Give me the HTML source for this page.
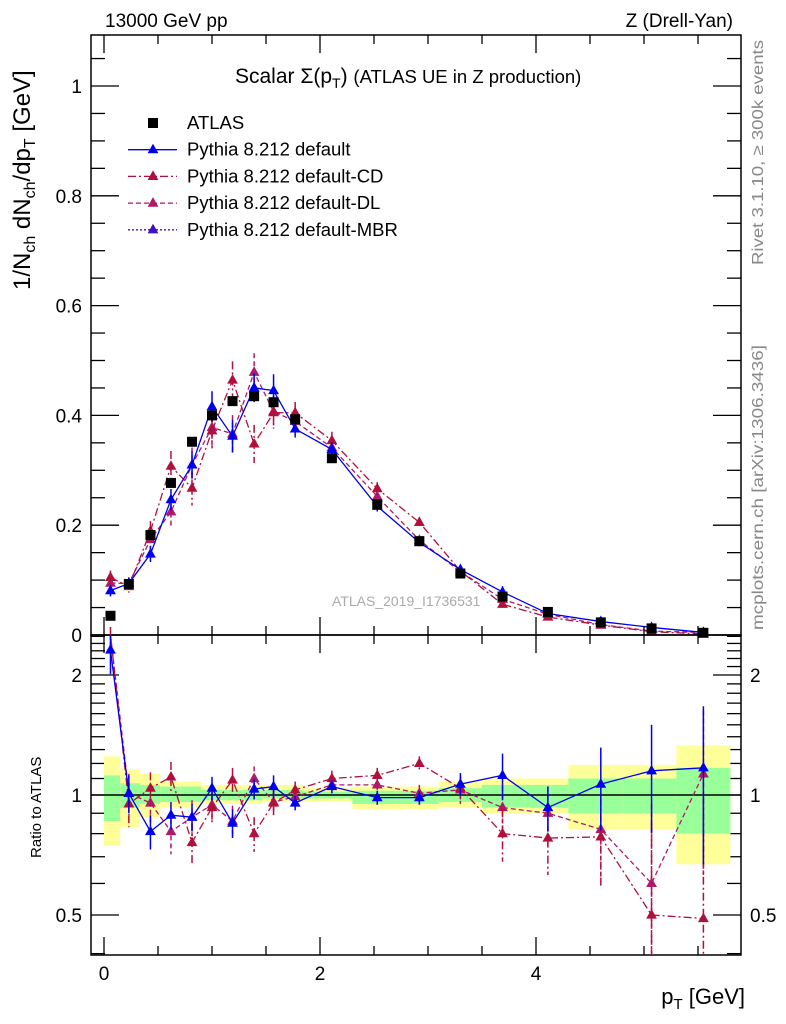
<!DOCTYPE html>
<html><head><meta charset="utf-8">
<style>
html,body{margin:0;padding:0;background:#fff;}
svg{display:block;font-family:"Liberation Sans",Arial,sans-serif;}
</style></head>
<body>
<svg id="c" width="786" height="1024" viewBox="0 0 786 1024">
<text x="105" y="27" font-size="19">13000 GeV pp</text>
<text x="733" y="27" font-size="19" text-anchor="end">Z (Drell-Yan)</text>
<text x="235" y="83" font-size="21">Scalar Σ(p<tspan font-size="14" dy="5">T</tspan><tspan dy="-5">) </tspan><tspan font-size="18.5">(ATLAS UE in Z production)</tspan></text>
<text transform="translate(763,265) rotate(-90)" font-size="16" fill="#888" textLength="225" lengthAdjust="spacingAndGlyphs">Rivet 3.1.10, ≥ 300k events</text>
<text transform="translate(763,630) rotate(-90)" font-size="16" fill="#888" textLength="285" lengthAdjust="spacingAndGlyphs">mcplots.cern.ch [arXiv:1306.3436]</text>
<text x="332" y="606" font-size="14" fill="#aaa">ATLAS_2019_I1736531</text>
<text transform="translate(30,290) rotate(-90)" font-size="24">1/N<tspan font-size="16" dy="5">ch</tspan><tspan dy="-5"> dN</tspan><tspan font-size="16" dy="5">ch</tspan><tspan dy="-5">/dp</tspan><tspan font-size="16" dy="5">T</tspan><tspan dy="-5"> [GeV]</tspan></text>
<text transform="translate(41,858) rotate(-90)" font-size="15">Ratio to ATLAS</text>
<text x="745" y="1004" font-size="22" text-anchor="end">p<tspan font-size="15" dy="5">T</tspan><tspan dy="-5"> [GeV]</tspan></text>
<g id="main"></g><g id="ratio"></g><g id="legend"></g>
</svg>
<script>
const xs = [0.06,0.23,0.43,0.62,0.815,1.0,1.19,1.39,1.57,1.77,2.11,2.53,2.92,3.3,3.69,4.11,4.6,5.07,5.55];
const binEdges = [0,0.15,0.33,0.52,0.71,0.9,1.09,1.28,1.47,1.66,1.85,2.3,2.7,3.1,3.5,3.9,4.3,4.8,5.3,5.8];
const dataVals = [0.035,0.093,0.182,0.277,0.352,0.400,0.426,0.435,0.424,0.393,0.322,0.238,0.171,0.112,0.070,0.042,0.023,0.012,0.004];
const ratioDefault = [2.31,1.01,0.81,0.89,0.88,1.04,0.85,1.035,1.05,0.955,1.05,0.985,0.985,1.065,1.12,0.93,1.065,1.15,1.17];
const ratioCD = [3.0,0.95,1.04,1.11,0.76,0.93,1.09,0.80,0.955,1.03,1.10,1.12,1.20,1.04,0.80,0.78,0.785,0.50,0.49];
const ratioDL = [2.7,1.01,0.955,0.81,0.88,0.945,0.86,1.10,0.96,0.99,1.06,1.06,1.01,1.03,0.93,0.90,0.82,0.60,1.13];
const errDefault = [0.3,0.11,0.08,0.07,0.07,0.07,0.07,0.06,0.07,0.04,0.04,0.04,0.04,0.07,0.15,0.12,0.25,0.35,0.5];
const errMag = [0.35,0.12,0.10,0.10,0.09,0.08,0.08,0.08,0.07,0.05,0.05,0.05,0.05,0.08,0.12,0.15,0.2,0.35,0.5];
const bandYHi = [1.25,1.16,1.13,1.08,1.08,1.06,1.06,1.06,1.06,1.06,1.04,1.05,1.05,1.08,1.10,1.10,1.19,1.19,1.33];
const bandYLo = [0.745,0.83,0.88,0.93,0.93,0.95,0.95,0.95,0.96,0.96,0.96,0.92,0.92,0.93,0.90,0.90,0.82,0.82,0.67];
const bandGHi = [1.12,1.07,1.06,1.05,1.05,1.03,1.03,1.03,1.03,1.03,1.02,1.025,1.025,1.04,1.06,1.06,1.10,1.10,1.17];
const bandGLo = [0.86,0.93,0.95,0.96,0.96,0.97,0.97,0.97,0.98,0.98,0.98,0.95,0.95,0.96,0.93,0.93,0.90,0.90,0.80];
const mainTicks = [0,0.2,0.4,0.6,0.8,1];
const mainTickLabels = ["0","0.2","0.4","0.6","0.8","1"];
const xTicks = [0,2,4];
const xTickLabels = ["0","2","4"];
const ratioTicks = [0.5,1,2];
const ratioTickLabels = ["0.5","1","2"];

const NS="http://www.w3.org/2000/svg";
const L=91,R=741,MT=35,MB=635,RT=635,RB=955;
const X=v=>104+v*108;
const YM=v=>635-v*549;
const YR=r=>795-120*Math.log2(r);
function mk(tag,attrs,parent){const e=document.createElementNS(NS,tag);for(const k in attrs)e.setAttribute(k,attrs[k]);parent.appendChild(e);return e;}
const main=document.getElementById('main'),ratio=document.getElementById('ratio'),leg=document.getElementById('legend');
const C_BLUE="#0000ee",C_CD="#b0103c",C_DL="#b0186a",C_MBR="#4010c0";

for(let i=0;i<xs.length;i++){
  const x0=X(binEdges[i]),w=X(binEdges[i+1])-x0;
  let e=mk('rect',{x:x0,y:YR(bandYHi[i]),width:w,height:YR(bandYLo[i])-YR(bandYHi[i]),fill:"#ffff99"},ratio);
  
  
  e=mk('rect',{x:x0,y:YR(bandGHi[i]),width:w,height:YR(bandGLo[i])-YR(bandGHi[i]),fill:"#99ff99"},ratio);
  
  
}
mk('line',{x1:L,x2:R,y1:YR(1),y2:YR(1),stroke:"#000","stroke-width":1.5},ratio);

function tri(g,x,y,c,s){return mk('path',{d:`M${x},${y-s} L${x+s*0.9},${y+s*0.6} L${x-s*0.9},${y+s*0.6}Z`,fill:c},g);}
function series(ratios,errs,color,dash,name){
  const gm=mk('g',{},main),gr=mk('g',{},ratio);
  
  
  
  
  const pm=[],pr=[];
  for(let i=0;i<xs.length;i++){
    const v=ratios[i]*dataVals[i],e=errs[i]*dataVals[i];
    const x=X(xs[i]);
    pm.push(x+','+YM(v));
    const ry=Math.max(RT,Math.min(RB,YR(ratios[i])));
    pr.push(x+','+ry);
    mk('line',{x1:x,x2:x,y1:Math.max(MT,YM(v+e)),y2:Math.min(MB,YM(Math.max(v-e,0))),stroke:color,"stroke-width":1.5,"stroke-dasharray":dash},gm);
    const rhi=YR(ratios[i]+errs[i]),rlo=ratios[i]-errs[i]>0.01?YR(ratios[i]-errs[i]):RB;
    mk('line',{x1:x,x2:x,y1:Math.max(RT,rhi),y2:Math.min(RB,rlo),stroke:color,"stroke-width":1.5,"stroke-dasharray":dash},gr);
    if(YM(v)>=MT&&YM(v)<=MB){const t=tri(gm,x,YM(v),color,6);}
    if(YR(ratios[i])>=RT-2&&YR(ratios[i])<=RB){const t=tri(gr,x,YR(ratios[i]),color,6);}
  }
  mk('polyline',{points:pm.join(' '),fill:"none",stroke:color,"stroke-width":1.3,"stroke-dasharray":dash},gm);
  mk('polyline',{points:pr.join(' '),fill:"none",stroke:color,"stroke-width":1.3,"stroke-dasharray":dash},gr);
}
series(ratioDL,errMag,C_DL,"5,3","pythia-dl");
series(ratioCD,errMag,C_CD,"8,3,2,3","pythia-cd");
series(ratioDefault,errDefault,C_BLUE,"","pythia-default");
for(let i=0;i<xs.length;i++){
  const r=mk('rect',{x:X(xs[i])-5,y:YM(dataVals[i])-5,width:10,height:10,fill:"#000"},main);
  
  
}

function frame(top,bot,name){const f=mk('rect',{x:L,y:top,width:R-L,height:bot-top,fill:"none",stroke:"#000","stroke-width":1.5},main);}
frame(MT,MB,'main-frame');frame(RT,RB,'ratio-frame');
for(let v=0;v<=5.8;v+=0.5){
  const big=Math.abs(v/2-Math.round(v/2))<1e-6,len=big?18:9,x=X(v);
  for(const [t,b] of [[MT,MB],[RT,RB]]){
    mk('line',{x1:x,x2:x,y1:b,y2:b-len,stroke:"#000","stroke-width":1.3},main);
    mk('line',{x1:x,x2:x,y1:t,y2:t+len,stroke:"#000","stroke-width":1.3},main);
  }
}
xTicks.forEach((v,i)=>{const t=mk('text',{x:X(v),y:980,"font-size":19,"text-anchor":"middle"},main);t.textContent=xTickLabels[i];});
for(let v=0;v<=1.09;v+=0.05){
  const big=Math.abs(v/0.2-Math.round(v/0.2))<1e-6,len=big?28:14,y=YM(v);
  mk('line',{x1:L,x2:L+len,y1:y,y2:y,stroke:"#000","stroke-width":1.3},main);
  mk('line',{x1:R,x2:R-len,y1:y,y2:y,stroke:"#000","stroke-width":1.3},main);
}
mainTicks.forEach((v,i)=>{const t=mk('text',{x:82,y:YM(v)+7,"font-size":19,"text-anchor":"end"},main);t.textContent=mainTickLabels[i];});
[0.4,0.5,0.6,0.7,0.8,0.9,1,1.1,1.2,1.3,1.4,1.5,1.6,1.7,1.8,1.9,2,2.1,2.2,2.3,2.4,2.5].forEach(v=>{
  const big=[0.5,1,2].includes(v),len=big?28:14,y=YR(v);
  if(y<RT||y>RB)return;
  mk('line',{x1:L,x2:L+len,y1:y,y2:y,stroke:"#000","stroke-width":1.3},main);
  mk('line',{x1:R,x2:R-len,y1:y,y2:y,stroke:"#000","stroke-width":1.3},main);
});
ratioTicks.forEach((v,i)=>{
  let t=mk('text',{x:82,y:YR(v)+7,"font-size":19,"text-anchor":"end"},main);t.textContent=ratioTickLabels[i];
  t=mk('text',{x:750,y:YR(v)+7,"font-size":19},main);t.textContent=ratioTickLabels[i];
});

const legNames=["ATLAS","Pythia 8.212 default","Pythia 8.212 default-CD","Pythia 8.212 default-DL","Pythia 8.212 default-MBR"];
const legColors=["#000",C_BLUE,C_CD,C_DL,C_MBR];
const legDash=["","","8,3,2,3","5,3","2,2"];
legNames.forEach((n,i)=>{
  const y=123+i*26.7,g=mk('g',{},leg);
  
  
  if(i===0)mk('rect',{x:148,y:y-5,width:10,height:10,fill:"#000"},g);
  else{mk('line',{x1:128,x2:177,y1:y,y2:y,stroke:legColors[i],"stroke-width":1.3,"stroke-dasharray":legDash[i]},g);tri(g,153,y,legColors[i],6);}
  const t=mk('text',{x:187,y:y+6,"font-size":18.5},g);t.textContent=n;
});
</script>
</body></html>
